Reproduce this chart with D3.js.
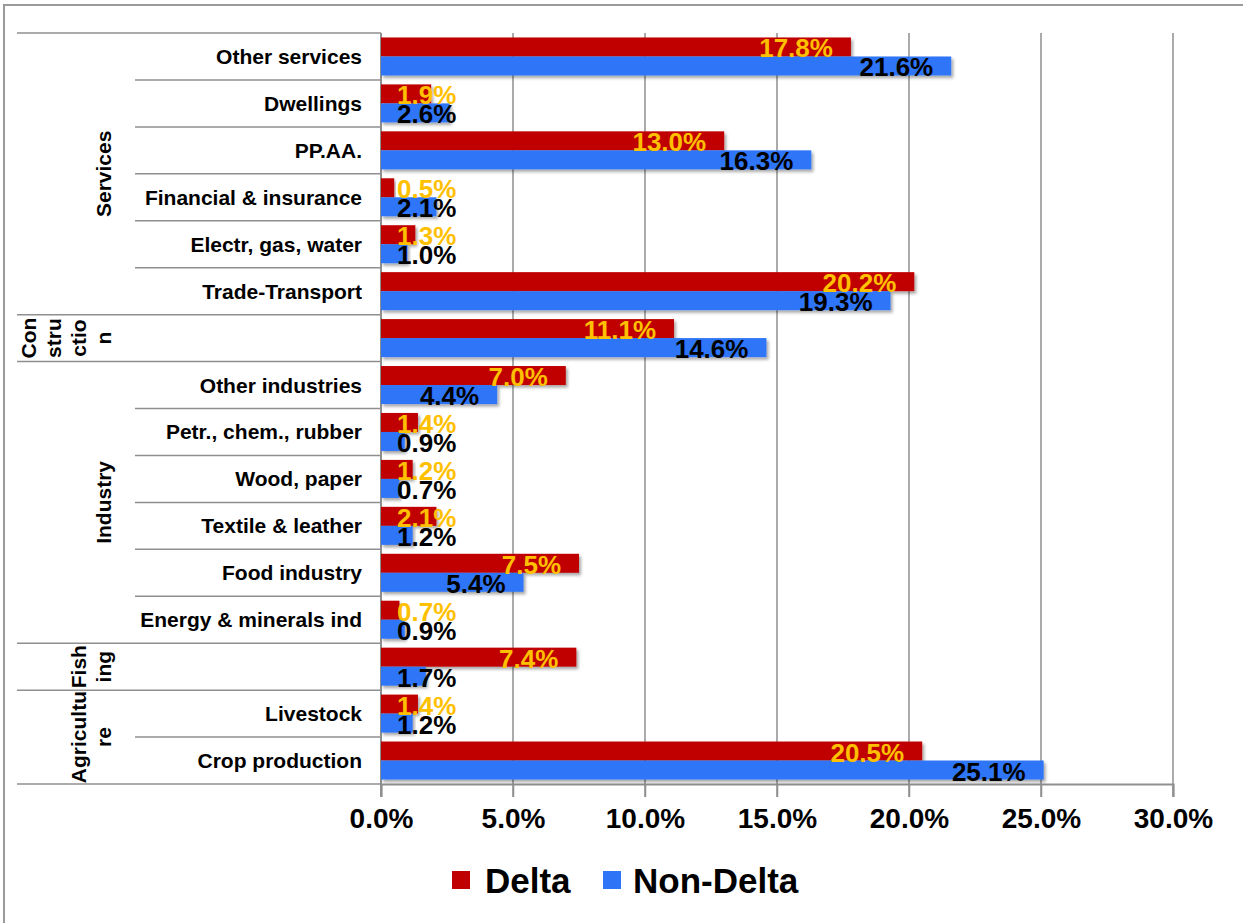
<!DOCTYPE html>
<html>
<head>
<meta charset="utf-8">
<script src="https://cdn.jsdelivr.net/npm/d3@7"></script>
<style>
  html, body { margin: 0; padding: 0; background: #fff; }
  svg { display: block; font-family: "Liberation Sans", Arial, sans-serif; font-weight: bold; }
</style>
</head>
<body>
<svg id="chart" width="1243" height="923"></svg>
<script>
// ---- Data ----
const categories = [
  "Other services", "Dwellings", "PP.AA.", "Financial & insurance", "Electr, gas, water", "Trade-Transport",
  "Construction-",
  "Other industries", "Petr., chem., rubber", "Wood, paper", "Textile & leather", "Food industry", "Energy & minerals ind",
  "Fishing-",
  "Livestock", "Crop production"
];
const categoryLabels = [
  "Other services", "Dwellings", "PP.AA.", "Financial & insurance", "Electr, gas, water", "Trade-Transport",
  "",
  "Other industries", "Petr., chem., rubber", "Wood, paper", "Textile & leather", "Food industry", "Energy & minerals ind",
  "",
  "Livestock", "Crop production"
];
const delta =    [17.8, 1.9, 13.0, 0.5, 1.3, 20.2, 11.1, 7.0, 1.4, 1.2, 2.1, 7.5, 0.7, 7.4, 1.4, 20.5];
const nonDelta = [21.6, 2.6, 16.3, 2.1, 1.0, 19.3, 14.6, 4.4, 0.9, 0.7, 1.2, 5.4, 0.9, 1.7, 1.2, 25.1];
const groups = [
  { lines: ["Services"], size: 6 },
  { lines: ["Con", "stru", "ctio", "n"], size: 1 },
  { lines: ["Industry"], size: 6 },
  { lines: ["Fish", "ing"], size: 1 },
  { lines: ["Agricultu", "re"], size: 2 }
];
const seriesNames = ["Delta", "Non-Delta"];
const seriesColors = ["#C00000", "#2E74F7"];
const labelColors = ["#FFC000", "#000000"];
const xTicks = [0, 5, 10, 15, 20, 25, 30];

(function () {
// ---- Layout ----
const svg = d3.select("#chart");
const pLeft = 381, pRight = 1173, pTop = 33, pBottom = 784;
const gridColor = "#8f8f8f";

const x = d3.scaleLinear().domain([0, 30]).range([pLeft, pRight]);
const y = d3.scaleBand().domain(categories).range([pTop, pBottom]).padding(0);
const ySub = d3.scaleBand().domain(seriesNames).range([0, y.bandwidth()]).paddingOuter(0.235).paddingInner(0);

// outer border
svg.append("rect").attr("x", 4).attr("y", 5).attr("width", 1250).attr("height", 930)
  .attr("fill", "none").attr("stroke", "#9a9a9a").attr("stroke-width", 2);

// shadow filter
const defs = svg.append("defs");
const f = defs.append("filter").attr("id", "shadow").attr("x", "-5%").attr("y", "-30%").attr("width", "115%").attr("height", "170%");
f.append("feDropShadow").attr("dx", 2).attr("dy", 2.5).attr("stdDeviation", 1.5).attr("flood-color", "#000").attr("flood-opacity", 0.35);

// gridlines
svg.append("g").selectAll("line").data(xTicks.slice(1)).join("line")
  .attr("x1", d => x(d)).attr("x2", d => x(d))
  .attr("y1", pTop).attr("y2", pBottom + 13)
  .attr("stroke", gridColor).attr("stroke-width", 1.5);

// x axis
const xAxis = d3.axisBottom(x).tickValues(xTicks).tickSize(13).tickFormat(d => d.toFixed(1) + "%");
const gx = svg.append("g").attr("transform", `translate(0,${pBottom})`).call(xAxis);
gx.select(".domain").attr("stroke", gridColor).attr("stroke-width", 2);
gx.selectAll(".tick line").attr("stroke", gridColor).attr("stroke-width", 1.5);
gx.selectAll(".tick text").attr("font-size", 28).attr("font-weight", "bold").attr("fill", "#000")
  .attr("font-family", '"Liberation Sans", Arial, sans-serif').attr("dy", null).attr("y", 44);

// category separators
const sepData = [];
let idx = 0;
groups.forEach(g => {
  for (let k = 0; k < g.size; k++) {
    sepData.push({ yv: y(categories[idx + k]), outer: k === 0 });
  }
  idx += g.size;
});
svg.append("g").selectAll("line").data(sepData).join("line")
  .attr("x1", d => d.outer ? 17 : 135).attr("x2", pLeft)
  .attr("y1", d => d.yv).attr("y2", d => d.yv)
  .attr("stroke", gridColor).attr("stroke-width", 1.5);
svg.append("line").attr("x1", 17).attr("x2", pLeft).attr("y1", pBottom).attr("y2", pBottom)
  .attr("stroke", gridColor).attr("stroke-width", 1.5);

// left axis line
svg.append("line").attr("x1", pLeft).attr("x2", pLeft).attr("y1", pTop).attr("y2", pBottom + 13)
  .attr("stroke", gridColor).attr("stroke-width", 2);

// category labels
svg.append("g").selectAll("text").data(categories).join("text")
  .attr("x", 362).attr("y", d => y(d) + y.bandwidth() / 2 + 7.5)
  .attr("text-anchor", "end").attr("font-size", 21).attr("fill", "#000")
  .text((d, i) => categoryLabels[i]);

// group labels
idx = 0;
groups.forEach(g => {
  const y0 = y(categories[idx]);
  const y1 = y(categories[idx + g.size - 1]) + y.bandwidth();
  const cy = (y0 + y1) / 2;
  const n = g.lines.length;
  g.lines.forEach((ln, li) => {
    const cx = 111 - (n - 1 - li) * 25;
    svg.append("text")
      .attr("transform", `translate(${cx},${cy}) rotate(-90)`)
      .attr("text-anchor", "middle").attr("font-size", 21).attr("fill", "#000")
      .text(ln);
  });
  idx += g.size;
});

// bars
const rows = categories.map((c, i) => ({ c, vals: [delta[i], nonDelta[i]] }));
const barG = svg.append("g");
rows.forEach(r => {
  r.vals.forEach((v, si) => {
    barG.append("rect")
      .attr("x", x(0)).attr("y", y(r.c) + ySub(seriesNames[si]))
      .attr("width", x(v) - x(0)).attr("height", ySub.bandwidth())
      .attr("fill", seriesColors[si]).attr("filter", "url(#shadow)");
  });
});

// value labels
const labG = svg.append("g");
rows.forEach(r => {
  r.vals.forEach((v, si) => {
    const t = labG.append("text")
      .attr("font-size", 26).attr("fill", labelColors[si])
      .attr("y", y(r.c) + ySub(seriesNames[si]) + ySub.bandwidth() + 1)
      .text(v.toFixed(1) + "%");
    const w = t.node().getComputedTextLength();
    const endX = x(v) - 18;
    if (endX - w < x(0) + 16) {
      t.attr("x", x(0) + 16).attr("text-anchor", "start");
    } else {
      t.attr("x", endX).attr("text-anchor", "end");
    }
  });
});

// legend
const legend = svg.append("g");
const legItems = [{ x: 452, tx: 485 }, { x: 603, tx: 633 }];
seriesNames.forEach((s, i) => {
  legend.append("rect").attr("x", legItems[i].x).attr("y", 871).attr("width", 18).attr("height", 18)
    .attr("fill", seriesColors[i]);
  legend.append("text").attr("x", legItems[i].tx).attr("y", 893)
    .attr("font-size", 35).attr("fill", "#000").text(s);
});
})();
</script>
</body>
</html>
